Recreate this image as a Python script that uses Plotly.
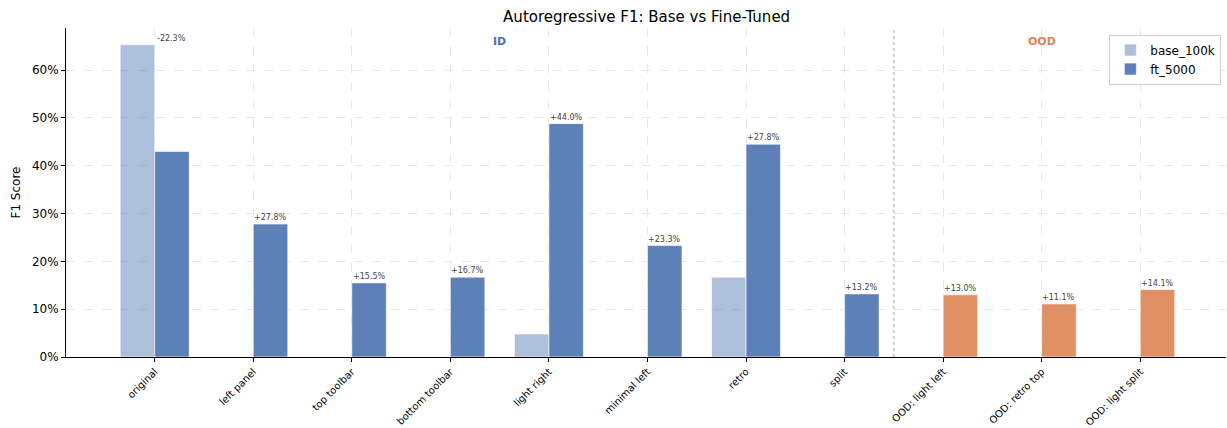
import plotly.graph_objects as go

# Autoregressive F1 scores (percent)
CATEGORIES = [
    "original", "left panel", "top toolbar", "bottom toolbar", "light right",
    "minimal left", "retro", "split",
    "OOD: light left", "OOD: retro top", "OOD: light split",
]
BASE_100K = [65.3, 0.0, 0.0, 0.0, 4.8, 0.0, 16.7, 0.0, 0.0, 0.0, 0.0]
FT_5000 = [43.0, 27.8, 15.5, 16.7, 48.8, 23.3, 44.5, 13.2, 13.0, 11.1, 14.1]
IS_OOD = [False] * 8 + [True] * 3
Y_TICKS = [0, 10, 20, 30, 40, 50, 60]

COLOR_BASE = "rgba(76,114,176,0.45)"
COLOR_FT = "rgba(76,114,176,0.9)"
COLOR_OOD = "rgba(221,132,82,0.9)"
FONT = "DejaVu Sans"

fig = go.Figure()
fig.add_trace(
    go.Bar(
        x=CATEGORIES,
        y=BASE_100K,
        name="base_100k",
        marker=dict(color=COLOR_BASE, line=dict(color="white", width=0.6)),
    )
)
fig.add_trace(
    go.Bar(
        x=CATEGORIES,
        y=FT_5000,
        name="ft_5000",
        marker=dict(
            color=[COLOR_OOD if o else COLOR_FT for o in IS_OOD],
            line=dict(color="white", width=0.6),
        ),
    )
)

# delta labels centred over the fine-tuned bar
for i, (b, f) in enumerate(zip(BASE_100K, FT_5000)):
    d = f - b
    fig.add_annotation(
        x=i + 0.175,
        y=max(b, f),
        text=f"{d:+.1f}%",
        showarrow=False,
        yanchor="bottom",
        font=dict(family=FONT, size=8, color="#444444"),
    )

# ID / OOD split
n_id = IS_OOD.index(True)
fig.add_shape(
    type="line", xref="x", yref="paper",
    x0=n_id - 0.5, x1=n_id - 0.5, y0=0, y1=1,
    line=dict(color="#b0b0b0", width=1.2, dash="dot"),
)
fig.add_annotation(
    x=(n_id - 1) / 2, y=0.96, xref="x", yref="paper", text="<b>ID</b>",
    showarrow=False, yanchor="middle",
    font=dict(family=FONT, size=11, color="#4C72B0"),
)
fig.add_annotation(
    x=(n_id + len(CATEGORIES) - 1) / 2, y=0.96, xref="x", yref="paper", text="<b>OOD</b>",
    showarrow=False, yanchor="middle",
    font=dict(family=FONT, size=11, color="#DD8452"),
)

fig.update_layout(
    width=1227,
    height=428,
    margin=dict(l=66, r=1, t=28, b=71),
    plot_bgcolor="white",
    paper_bgcolor="white",
    font=dict(family=FONT, size=12, color="black"),
    barmode="group",
    bargap=0.3,
    bargroupgap=0,
    title=dict(
        text="Autoregressive F1: Base vs Fine-Tuned",
        x=0.527, xanchor="center", y=0.962, yanchor="middle",
        font=dict(family=FONT, size=15),
    ),
    legend=dict(
        x=0.996, y=0.98, xanchor="right", yanchor="top",
        bgcolor="rgba(255,255,255,0.8)", bordercolor="#d0d0d0", borderwidth=1,
        font=dict(family=FONT, size=12),
    ),
    showlegend=True,
)
fig.update_xaxes(
    range=[-0.9, len(CATEGORIES) - 0.13],
    tickangle=-45,
    tickfont=dict(family=FONT, size=10),
    ticks="outside", ticklen=4, tickcolor="black",
    showline=True, linecolor="black", linewidth=1,
    showgrid=True, gridcolor="#e8e8e8", griddash="dash", gridwidth=1,
    automargin=False,
)
fig.update_yaxes(
    range=[0, 68.8],
    tickvals=Y_TICKS,
    ticktext=[f"{t}%" for t in Y_TICKS],
    tickfont=dict(family=FONT, size=12),
    ticks="outside", ticklen=4, tickcolor="black",
    showline=True, linecolor="black", linewidth=1,
    showgrid=True, gridcolor="#e8e8e8", griddash="dash", gridwidth=1,
    zeroline=False,
    automargin=False,
    title=dict(text="F1 Score", font=dict(family=FONT, size=12), standoff=8),
)

fig.write_html(
    "out.html",
    config={"displayModeBar": False},
    post_script="document.body.style.margin='0';",
)
